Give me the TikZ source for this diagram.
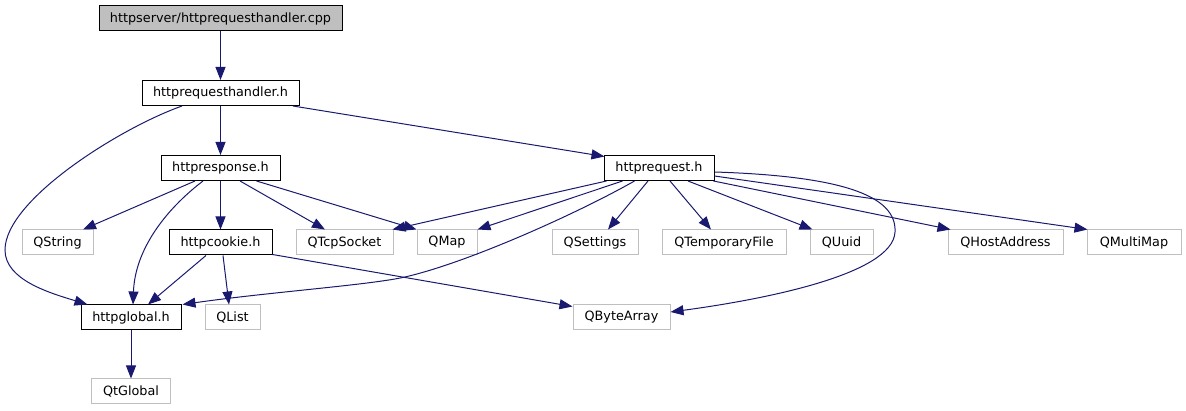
\documentclass[tikz,border=0pt]{standalone}
\usepackage{fontspec}
\setmainfont{DejaVu Sans}
\usetikzlibrary{arrows.meta,calc}
\definecolor{edgecol}{HTML}{191970}
\definecolor{extcol}{HTML}{BFBFBF}
\begin{document}
\begin{tikzpicture}[x=1pt,y=-1pt,
  box/.style={font=\fontsize{12.8}{15}\selectfont, inner sep=0pt, minimum height=25pt, line width=1pt},
  inc/.style={box, draw=black},
  extbox/.style={box, draw=extcol},
  edg/.style={draw=edgecol, line width=1pt, -{Triangle[length=13pt,width=10pt]}}
]
\useasboundingbox (0,0) rectangle (1186,411);

\node[inc, fill=extcol, minimum width=243pt] (cpp) at (220.5,18.5) {httpserver/httprequesthandler.cpp};
\node[inc, minimum width=157pt] (handler) at (220.5,93) {httprequesthandler.h};
\node[inc, minimum width=119pt] (response) at (220.5,168) {httpresponse.h};
\node[inc, minimum width=110pt] (request) at (659,168) {httprequest.h};
\node[extbox, minimum width=71pt] (qstring) at (57.5,242.5) {QString};
\node[inc, minimum width=103pt] (cookie) at (220.5,242.5) {httpcookie.h};
\node[extbox, minimum width=97pt] (tcp) at (344.5,242.5) {QTcpSocket};
\node[extbox, minimum width=60pt] (qmap) at (447,242.5) {QMap};
\node[extbox, minimum width=86pt] (qsettings) at (595,242.5) {QSettings};
\node[extbox, minimum width=124pt] (qtemp) at (724,242.5) {QTemporaryFile};
\node[extbox, minimum width=63pt] (quuid) at (841.5,242.5) {QUuid};
\node[extbox, minimum width=115pt] (qhost) at (1005.5,242.5) {QHostAddress};
\node[extbox, minimum width=94pt] (qmulti) at (1134,242.5) {QMultiMap};
\node[inc, minimum width=100pt] (global) at (131,317.5) {httpglobal.h};
\node[extbox, minimum width=55pt] (qlist) at (232.5,317.5) {QList};
\node[extbox, minimum width=97pt] (qbyte) at (621.5,317.5) {QByteArray};
\node[extbox, minimum width=79pt] (qtglobal) at (131,391.5) {QtGlobal};

% edges
\draw[edg] (cpp) -- (handler);
\draw[edg] (handler) -- (response);
\draw[edg] ($(handler.south)+(72.5,0)$) -- ($(request.north west)+(1,1.5)$);
\draw[edg] ($(handler.south)+(-38.5,0)$) .. controls (120,128) and (5,200) .. (5,250)
   .. controls (5,280) and (50,293) .. ($(global.north west)+(7,0)$);
\draw[edg] ($(response.south)+(-25.5,0)$) -- ($(qstring.north)+(25.5,0)$);
\draw[edg] ($(response.south)+(-17.5,0)$) .. controls (165,210) and (135,250) .. ($(global.north)+(2,0)$);
\draw[edg] (response) -- (cookie);
\draw[edg] ($(response.south)+(19.5,0)$) -- ($(tcp.north)+(-19.5,0)$);
\draw[edg] ($(response.south)+(36,0)$) -- ($(qmap.north west)+(0,0)$);
\draw[edg] ($(request.south west)+(3,0)$) -- ($(tcp.north east)+(-1,0)$);
\draw[edg] ($(request.south west)+(19,0)$) -- ($(qmap.north east)+(0,0)$);
\draw[edg] ($(request.south west)+(31,0)$) .. controls (580,212) and (470,262) .. (405,277)
   .. controls (370,285) and (270,292) .. ($(global.north east)+(1,0)$);
\draw[edg] ($(request.south)+(-11,0)$) -- ($(qsettings.north)+(13,0)$);
\draw[edg] ($(request.south)+(11,0)$) -- ($(qtemp.north)+(-13,0)$);
\draw[edg] ($(request.south)+(29,0)$) -- ($(quuid.north west)+(3,0)$);
\draw[edg] ($(request.south east)+(-1,0)$) -- ($(qhost.north west)+(3,0)$);
\draw[edg] ($(request.east)+(0,8)$) -- ($(qmulti.north west)+(1,0)$);
\draw[edg] ($(request.east)+(0,4)$) .. controls (840,176) and (897,195) .. (895,232)
   .. controls (893,275) and (760,300) .. ($(qbyte.east)+(0,-5.5)$);
\draw[edg] ($(cookie.south)+(-14.5,0)$) -- ($(global.north)+(17,0)$);
\draw[edg] ($(cookie.south)+(2.5,0)$) -- ($(qlist.north)+(-3.5,0)$);
\draw[edg] ($(cookie.south east)+(0,-1)$) -- ($(qbyte.north west)+(0,2)$);
\draw[edg] (global) -- (qtglobal);
\end{tikzpicture}
\end{document}
